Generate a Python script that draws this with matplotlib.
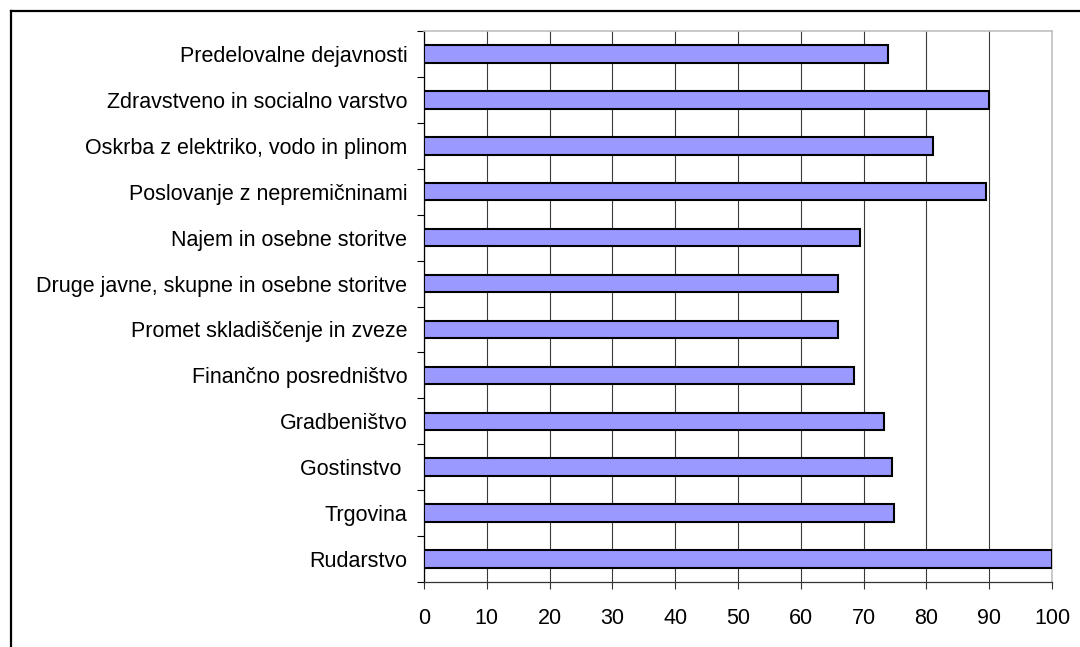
import matplotlib
matplotlib.use("Agg")
import matplotlib.pyplot as plt
from matplotlib.lines import Line2D
import numpy as np

# Sectors, listed top to bottom as they appear on the chart
categories = [
    "Predelovalne dejavnosti",
    "Zdravstveno in socialno varstvo",
    "Oskrba z elektriko, vodo in plinom",
    "Poslovanje z nepremičninami",
    "Najem in osebne storitve",
    "Druge javne, skupne in osebne storitve",
    "Promet skladiščenje in zveze",
    "Finančno posredništvo",
    "Gradbeništvo",
    "Gostinstvo ",
    "Trgovina",
    "Rudarstvo",
]
values = [73.9, 90.0, 81.1, 89.5, 69.4, 66.0, 66.0, 68.5, 73.2, 74.5, 74.9, 100.0]
x_ticks = [0, 10, 20, 30, 40, 50, 60, 70, 80, 90, 100]

plt.rcParams["font.family"] = ["Liberation Sans", "DejaVu Sans"]

W, H, DPI = 1080, 647, 100
fig = plt.figure(figsize=(W / DPI, H / DPI), dpi=DPI)
fig.patch.set_facecolor("white")

left, right, top, bottom = 424, 1052, 31, 582
ax = fig.add_axes([left / W, 1 - bottom / H, (right - left) / W, (bottom - top) / H])

# bottom category first so the list order reads top-down
labels = categories[::-1]
vals = values[::-1]
ypos = np.arange(len(labels))

ax.barh(ypos, vals, height=0.38, color="#9999ff", edgecolor="black",
        linewidth=1.5, zorder=3)

ax.set_xlim(0, 100)
ax.set_ylim(-0.5, len(labels) - 0.5)
ax.set_xticks(x_ticks)
ax.set_xticklabels([str(t) for t in x_ticks], fontsize=15.5)
ax.set_yticks(ypos)
ax.set_yticklabels(labels, fontsize=15.5)

# ticks on category boundaries, labels centred on bars
ax.set_yticks(np.arange(-0.5, len(labels), 1.0), minor=True)
ax.tick_params(axis="y", which="major", length=0, pad=12)
ax.tick_params(axis="y", which="minor", length=5, width=0.8, color="black", direction="out")
ax.tick_params(axis="x", which="major", length=5, width=0.8, color="#333333",
               direction="out", pad=14)

ax.xaxis.grid(True, color="#3a3a3a", linewidth=0.8, zorder=0)
ax.set_axisbelow(True)

ax.spines["left"].set_color("black")
ax.spines["left"].set_linewidth(0.9)
ax.spines["bottom"].set_color("#333333")
ax.spines["bottom"].set_linewidth(0.9)
for s in ("top", "right"):
    ax.spines[s].set_color("#c0c0c0")
    ax.spines[s].set_linewidth(1.2)

# outer chart frame (top and left edges)
fx = 10.5 / W
fy = 1 - 10.5 / H
fig.add_artist(Line2D([fx, 1.01], [fy, fy], transform=fig.transFigure,
                      color="black", linewidth=1.6))
fig.add_artist(Line2D([fx, fx], [fy, -0.01], transform=fig.transFigure,
                      color="black", linewidth=1.6))

fig.savefig("out.png", dpi=DPI)
